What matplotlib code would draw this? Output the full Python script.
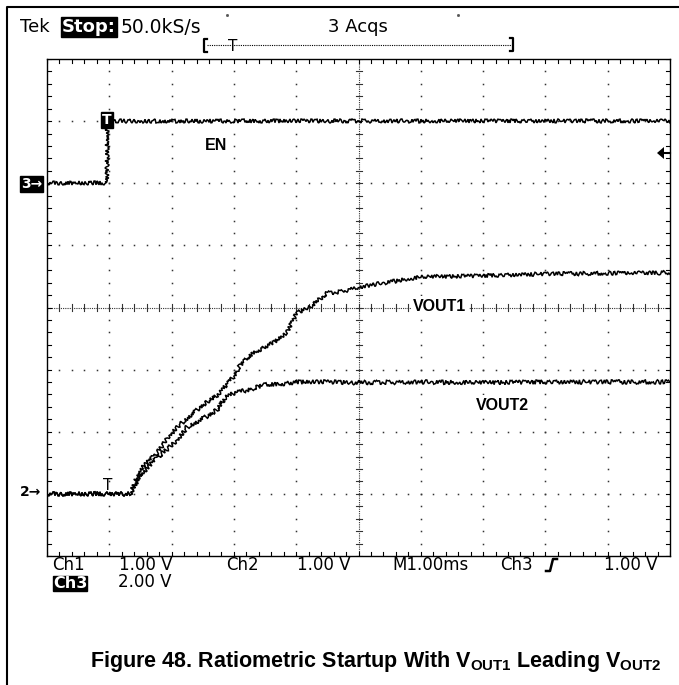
import matplotlib.pyplot as plt
import numpy as np

plt.rcParams['mathtext.fontset'] = 'custom'
plt.rcParams['mathtext.rm'] = 'Liberation Sans'
plt.rcParams['mathtext.bf'] = 'Liberation Sans:bold'

# traces in screen divisions (10 x 8), time axis 1 ms/div
en_t = [0.0, 0.97, 0.97, 10.0]
en_v = [6.0, 6.0, 7.0, 7.0]

vout1_t = [0.0, 1.33, 1.49, 1.77, 1.93, 2.09, 2.46, 2.73, 2.99, 3.10, 3.31, 3.63,
           3.85, 4.01, 4.27, 4.49, 4.70, 5.02, 5.67, 6.0, 7.0, 8.0, 9.0, 10.0]
vout1_v = [1.0, 1.0, 1.39, 1.66, 1.90, 2.08, 2.40, 2.59, 2.88, 3.07, 3.27, 3.43,
           3.59, 3.91, 4.04, 4.23, 4.25, 4.33, 4.44, 4.49, 4.51, 4.54, 4.55, 4.56]

vout2_t = [0.0, 1.33, 1.49, 1.77, 2.09, 2.25, 2.46, 2.73, 2.86, 2.99, 3.21, 3.47,
           3.85, 4.06, 4.49, 5.0, 6.0, 7.0, 8.0, 10.0]
vout2_v = [1.0, 1.0, 1.30, 1.58, 1.87, 2.08, 2.19, 2.35, 2.56, 2.62, 2.67, 2.75,
           2.78, 2.80, 2.80, 2.79, 2.80, 2.79, 2.80, 2.80]

W, H = 679, 685
fig = plt.figure(figsize=(W / 100, H / 100), dpi=100)

# scope screen
x0, y0, x1, y1 = 47, 59, 670, 556
ax = fig.add_axes([x0 / W, 1 - y1 / H, (x1 - x0) / W, (y1 - y0) / H])
ax.set_xlim(0, 10)
ax.set_ylim(0, 8)
ax.set_xticks([])
ax.set_yticks([])
for s in ax.spines.values():
    s.set_linewidth(1.0)
    s.set_color('black')

# whole-page layer in pixel coordinates for frame and text, drawn on top
bg = fig.add_axes([0, 0, 1, 1])
bg.set_xlim(0, W)
bg.set_ylim(H, 0)
bg.axis('off')
bg.set_zorder(5)
bg.plot([7, 7, W], [H, 7, 7], color='black', lw=1.5)

gcol = '#333333'
minor_x = np.arange(0, 10.001, 0.2)
minor_y = np.arange(0, 8.001, 0.2)
for gx in range(1, 10):
    if gx == 5:
        continue
    ax.plot(np.full_like(minor_y, gx), minor_y, ls='none', marker='s', ms=1.1,
            mec='none', mfc=gcol)
for gy in range(1, 8):
    if gy == 4:
        continue
    ax.plot(minor_x, np.full_like(minor_x, gy), ls='none', marker='s', ms=1.1,
            mec='none', mfc=gcol)

# centre crosshair with graticule ticks
ax.plot([5, 5], [0, 8], color=gcol, lw=0.8, ls=(0, (1, 1)))
ax.plot([0, 10], [4, 4], color=gcol, lw=0.8, ls=(0, (1, 1)))
tx, ty = 3 / 62.3, 3 / 62.1
for yy in minor_y:
    ax.plot([5 - tx, 5 + tx], [yy, yy], color=gcol, lw=0.8)
for xx in minor_x:
    ax.plot([xx, xx], [4 - ty, 4 + ty], color=gcol, lw=0.8)

# edge ticks
ex, ey = 4 / 62.3, 4 / 62.1
for xx in minor_x:
    ax.plot([xx, xx], [0, ey], color='black', lw=0.8)
    ax.plot([xx, xx], [8 - ey, 8], color='black', lw=0.8)
for yy in minor_y:
    ax.plot([0, ex], [yy, yy], color='black', lw=0.8)
    ax.plot([10 - ex, 10], [yy, yy], color='black', lw=0.8)

# waveforms, drawn with a jittered stroke like a sampled trace
for t, v, amp in [(en_t, en_v, 2.0), (vout1_t, vout1_v, 2.0), (vout2_t, vout2_v, 2.2)]:
    ln, = ax.plot(t, v, color='black', lw=1.1, solid_joinstyle='miter')
    ln.set_sketch_params(scale=amp, length=3.0, randomness=3)

scope_font = 'DejaVu Sans'
lab_font = 'Liberation Sans'

# header
bg.text(20, 27, 'Tek', fontsize=13, family=scope_font, va='center', ha='left')
bg.text(62, 27, 'Stop:', fontsize=13, family=scope_font, fontweight='bold', color='white',
        va='center', ha='left',
        bbox=dict(boxstyle='square,pad=0.05', fc='black', ec='black'))
bg.text(121, 27, '50.0kS/s', fontsize=13.5, family=scope_font, va='center', ha='left')
bg.text(328, 27, '3 Acqs', fontsize=13, family=scope_font, va='center', ha='left')
bg.plot([227], [15], marker='s', ms=1, color='#555555')
bg.plot([458], [15], marker='s', ms=1, color='#555555')

# record window bracket with trigger point
bg.plot([207, 512], [45, 45], color='black', lw=0.8, ls=(0, (1, 1)))
bg.plot([207, 204, 204, 207], [39, 39, 52, 52], color='black', lw=1.6)
bg.plot([510, 513, 513, 510], [38, 38, 51, 51], color='black', lw=1.6)
bg.text(233, 46, 'T', fontsize=11, family=scope_font, va='center', ha='center')

# channel markers
bg.text(21, 184, '3\u2192', fontsize=10, family=scope_font, fontweight='bold', color='white',
        va='center', ha='left',
        bbox=dict(boxstyle='square,pad=0.08', fc='black', ec='black'))
bg.text(20, 492, '2\u2192', fontsize=10, family=scope_font, fontweight='bold',
        va='center', ha='left')
bg.text(107, 120, 'T', fontsize=10, family=scope_font, fontweight='bold', color='white',
        va='center', ha='center',
        bbox=dict(boxstyle='square,pad=0.1', fc='black', ec='black'))
bg.text(108, 485, 'T', fontsize=11, family=scope_font, va='center', ha='center')

# trigger level arrow on the right edge
bg.fill([657, 664, 664], [153, 147, 159], color='black', lw=0)
bg.plot([664, 670], [153, 153], color='black', lw=1.5)

# trace labels
wb = dict(boxstyle='square,pad=0.15', fc='white', ec='none')
bg.text(205, 145, 'EN', fontsize=11.5, family=lab_font, fontweight='bold',
        va='center', ha='left', bbox=wb)
bg.text(413, 306, 'VOUT1', fontsize=11.5, family=lab_font, fontweight='bold',
        va='center', ha='left', bbox=wb)
bg.text(476, 405, 'VOUT2', fontsize=11.5, family=lab_font, fontweight='bold',
        va='center', ha='left', bbox=wb)

# settings readout
ry1, ry2 = 565, 582
for x, s in [(52, 'Ch1'), (119, '1.00 V'), (226, 'Ch2'), (297, '1.00 V'),
             (392, 'M1.00ms'), (500, 'Ch3'), (604, '1.00 V')]:
    bg.text(x, ry1, s, fontsize=12, family=scope_font, va='center', ha='left')
bg.plot([546, 550, 553, 557], [571, 571, 559, 559], color='black', lw=1.8)
bg.text(53, ry2 + 1, 'Ch3', fontsize=11.5, family=scope_font, fontweight='bold', color='white',
        va='center', ha='left',
        bbox=dict(boxstyle='square,pad=0.0', fc='black', ec='black'))
bg.text(118, ry2, '2.00 V', fontsize=12, family=scope_font, va='center', ha='left')

# caption
bg.text(376, 662, r'Figure 48. Ratiometric Startup With V$_{\mathbf{OUT1}}$ Leading V$_{\mathbf{OUT2}}$',
        fontsize=15.5, family=lab_font, fontweight='bold', va='center', ha='center')

fig.savefig('out.png', dpi=100)
